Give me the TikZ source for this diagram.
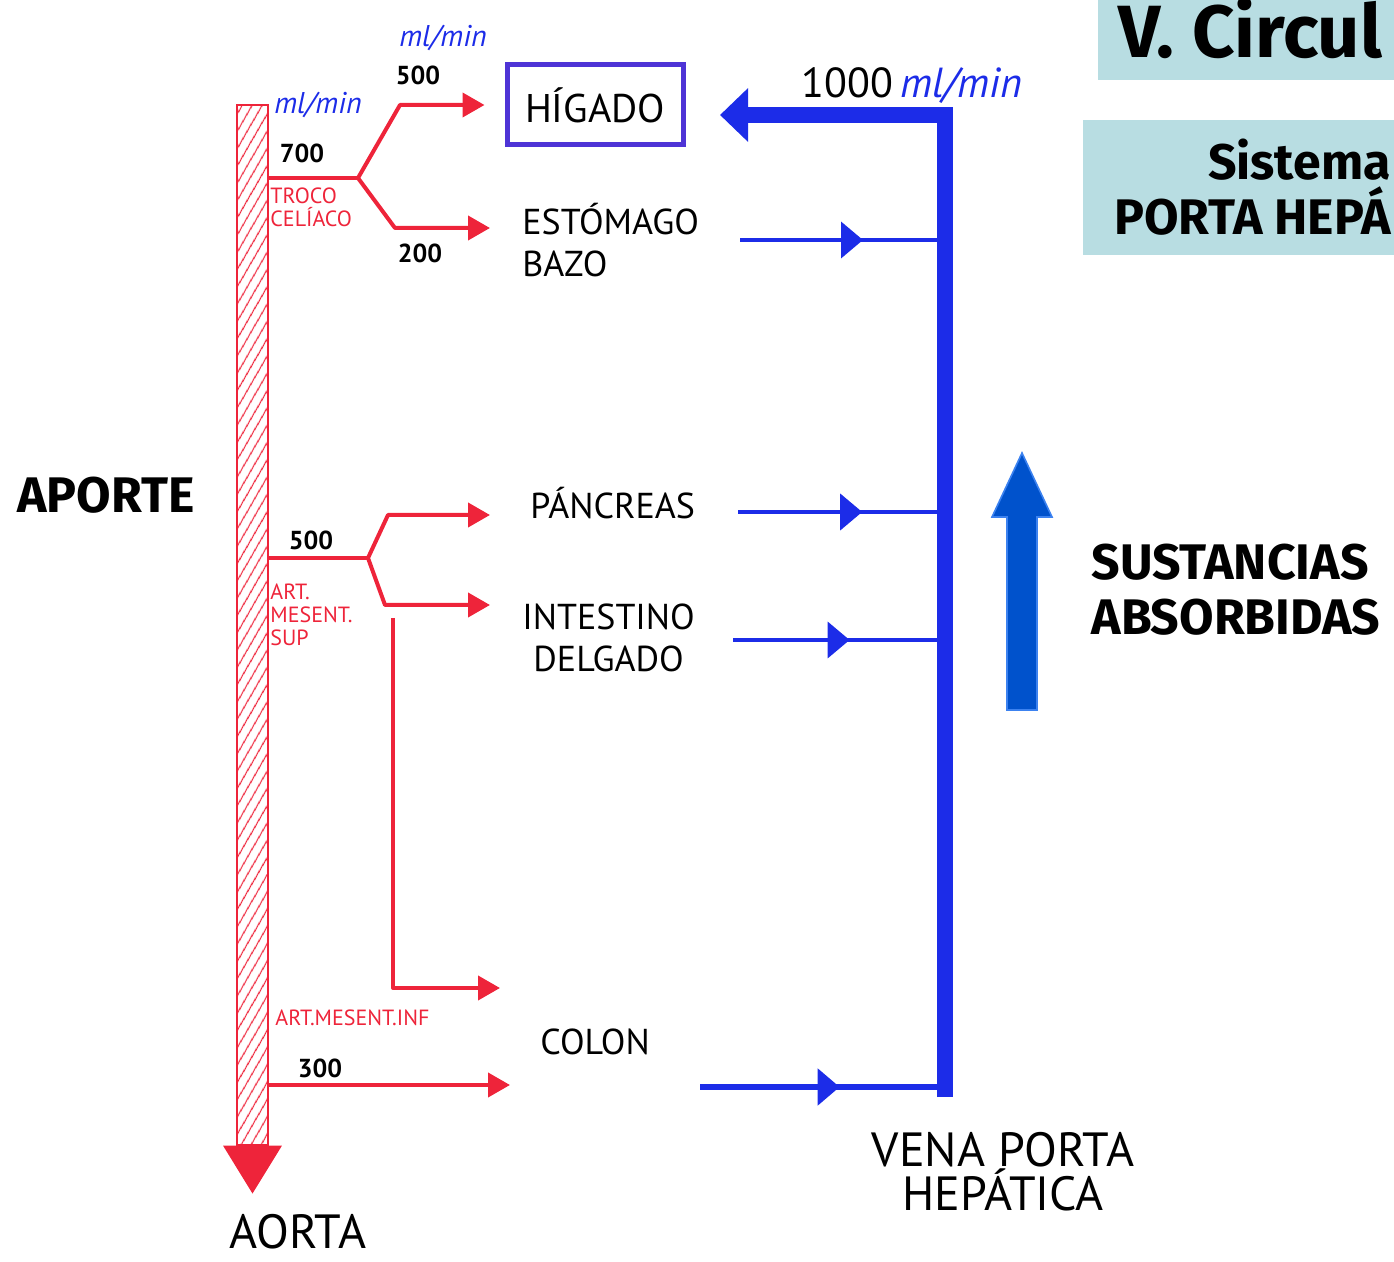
\documentclass[tikz,border=0pt]{standalone}
\usepackage{fontspec}
\setmainfont{Fira Sans}
\newfontfamily\handfont{PT Sans}
\usetikzlibrary{arrows.meta,positioning,patterns.meta,decorations.markings}
\definecolor{arteryred}{RGB}{238,36,58}
\definecolor{veinblue}{RGB}{28,44,232}
\definecolor{boxblue}{RGB}{78,52,214}
\definecolor{bigblue}{RGB}{0,82,204}
\definecolor{bigedge}{RGB}{60,130,240}
\definecolor{titlebg}{RGB}{184,221,226}

\begin{document}
\begin{tikzpicture}[x=0.5pt, y=-0.5pt,
    artery/.style={draw=arteryred, line width=2pt, line join=round},
    redtip/.style={-{Triangle[length=11pt,width=12pt]}},
    portal/.style={draw=veinblue, line width=8pt, -{Triangle[length=14pt,width=26pt]}},
    tributary/.style={color=veinblue, line width=2pt, postaction={decorate},
        decoration={markings, mark=at position #1 with {\arrow{Triangle[length=11pt,width=18pt]}}}},
    organ/.style={font=\handfont\fontsize{18}{21}\selectfont, inner sep=0pt},
    flow/.style={font=\handfont\bfseries\fontsize{13}{14}\selectfont, inner sep=0pt},
    rate/.style={text=veinblue, font=\handfont\itshape\fontsize{15}{16}\selectfont, inner sep=0pt},
    vessel/.style={text=arteryred, font=\handfont\fontsize{11}{11.5}\selectfont, align=left, inner sep=0pt},
    typed/.style={font=\bfseries\fontsize{25}{27.5}\selectfont, align=left, inner sep=0pt},
    aortabar/.style={draw=arteryred, line width=1.2pt, inner sep=0pt,
        pattern={Lines[angle=60,distance=4pt,line width=0.6pt]}, pattern color=arteryred}]
\useasboundingbox (0,0) rectangle (1394,1262);
\clip (0,0) rectangle (1394,1262);

\fill[titlebg] (1098,0) rectangle (1394,80);
\fill[titlebg] (1083,120) rectangle (1394,255);
\node[typed, font=\bfseries\fontsize{37}{40}\selectfont, anchor=base west] (title) at (1118,58) {V. Circul};
\node[typed, anchor=base east] (subtitle1) at (1391,180) {Sistema};
\node[typed, anchor=base east] (subtitle2) at (1391,235) {PORTA HEPÁ};
\node[typed, anchor=base west] (aporte) at (17,513) {APORTE};
\node[typed] (sust) at (1236,590) {SUSTANCIAS\\ABSORBIDAS};

\node[aortabar, minimum width=15.5pt, minimum height=520pt] (aorta) at (252.5,625) {};
\node[organ, font=\handfont\fontsize{24}{24}\selectfont] (aortaname) at (298,1232) {AORTA};

\node[organ, draw=boxblue, line width=2.5pt, minimum width=88pt, minimum height=40pt, font=\handfont\fontsize{20}{22}\selectfont] (higado) at (595,105) {HÍGADO};
\node[organ, anchor=west, align=left] (estomago) at (522,240) {ESTÓMAGO\\BAZO};
\node[organ, anchor=west] (pancreas) at (530,503) {PÁNCREAS};
\node[organ, anchor=west, align=center] (intestino) at (522,638) {INTESTINO\\DELGADO};
\node[organ, anchor=west] (colon) at (540,1042) {COLON};
\node[organ, align=center, font=\handfont\fontsize{24}{22}\selectfont] (vpname) at (1003,1172) {VENA PORTA\\HEPÁTICA};

\node[rate] (rate1) at (318,105) {ml/min};
\node[flow] (f700) at (302,153) {700};
\node[vessel, anchor=west] (troco) at (270,207) {TROCO\\CELÍACO};
\node[rate] (rate2) at (443,38) {ml/min};
\node[flow] (f500a) at (418,75) {500};
\node[flow] (f200) at (420,253) {200};
\node[flow] (f500b) at (311,540) {500};
\node[vessel, anchor=west] (sma) at (270,615) {ART.\\MESENT.\\SUP};
\node[vessel, anchor=west] (ima) at (275,1018) {ART.MESENT.INF};
\node[flow] (f300) at (320,1068) {300};
\node[font=\handfont\fontsize{21}{22}\selectfont, inner sep=0pt] (total) at (912,86) {1000\,\textcolor{veinblue}{\itshape ml/min}};

\coordinate (tc) at (358,178);
\coordinate (toest) at (490,228);
\coordinate (smafork) at (368,558);
\coordinate (topan) at (490,515);
\coordinate (toint) at (490,605);
\coordinate (imastart) at (393,618);
\coordinate (tocol1) at (500,988);
\coordinate (tocol2) at (510,1085);
\coordinate (pvtop) at (945,115);
\coordinate (pvbot) at (945,1097);
\coordinate (pvout) at (720,115);
\coordinate (sest) at (740,240);
\coordinate (span) at (738,512);
\coordinate (sint) at (733,640);
\coordinate (scol) at (700,1087);

\draw[artery] (aorta.east |- tc) -- (tc);
\draw[artery, redtip] (tc) -- (400,105) -- ([xshift=-10pt]higado.west);
\draw[artery, redtip] (tc) -- (395,228) -- (toest);
\draw[artery] (aorta.east |- smafork) -- (smafork);
\draw[artery, redtip] (smafork) -- (388,515) -- (topan);
\draw[artery, redtip] (smafork) -- (385,605) -- (toint);
\draw[artery, redtip] (imastart) -- (393,988) -- (tocol1);
\draw[artery, redtip] (aorta.east |- tocol2) -- (tocol2);
\draw[artery, -{Triangle[length=24pt,width=29pt]}] (aorta.south) -- ++(0,48);

\draw[portal] (pvbot) -- (pvtop) -- (pvout);
\draw[tributary=0.6] (sest) -- (sest -| pvtop);
\draw[tributary=0.6] (span) -- (span -| pvtop);
\draw[tributary=0.55] (sint) -- (sint -| pvtop);
\draw[tributary=0.57, line width=2.6pt] (scol) -- (scol -| pvtop);

\filldraw[fill=bigblue, draw=bigedge, line width=0.8pt] (1007,710) -- (1007,517) -- (992,517) -- (1022,453) -- (1052,517) -- (1037,517) -- (1037,710) -- cycle;
\end{tikzpicture}
\end{document}
